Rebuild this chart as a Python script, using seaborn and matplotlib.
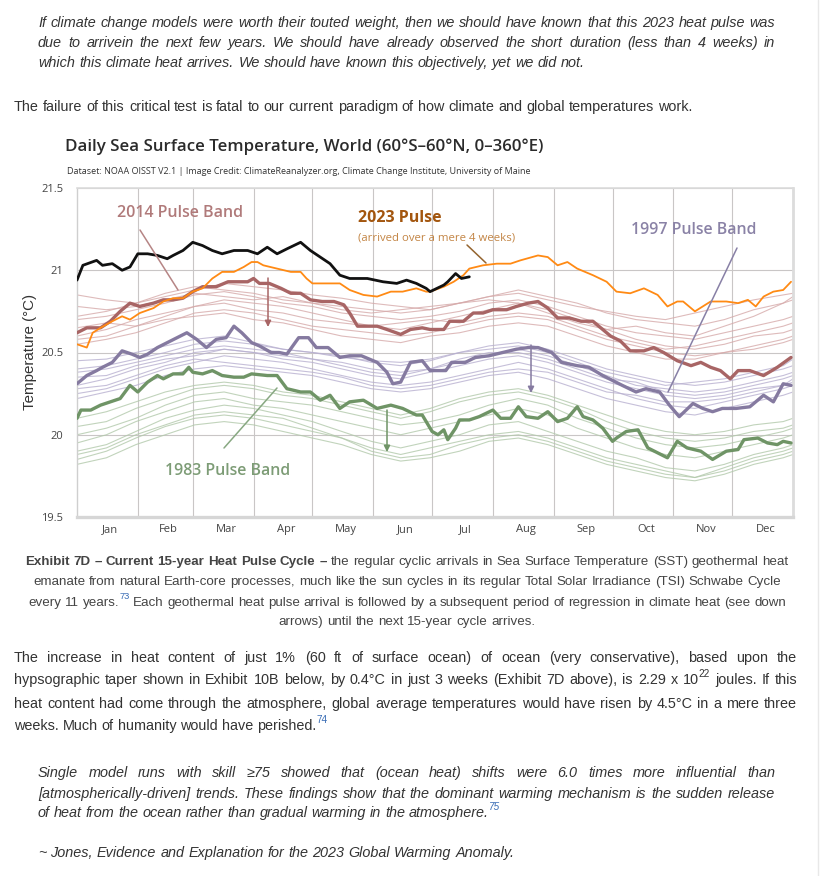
import matplotlib
matplotlib.use("Agg")
import matplotlib.pyplot as plt
from matplotlib.lines import Line2D
import numpy as np
import pandas as pd
import seaborn as sns

# ---------------- data ----------------
month_labels = ['Jan', 'Feb', 'Mar', 'Apr', 'May', 'Jun', 'Jul', 'Aug', 'Sep', 'Oct', 'Nov', 'Dec']
month_starts = [1, 32, 60, 91, 121, 152, 182, 213, 244, 274, 305, 335, 366]
y_ticks = [19.5, 20.0, 20.5, 21.0, 21.5]
y_tick_labels = ['19.5', '20', '20.5', '21', '21.5']

# 2024 (black, partial year)
days_2024 = [1, 4, 11, 14, 19, 24, 28, 32, 37, 42, 47, 50, 55, 60, 65, 70, 75, 81, 88, 93, 98, 103, 108,
             115, 120, 125, 130, 135, 140, 149, 157, 164, 169, 174, 179, 181, 188, 190, 194, 197, 201]
temp_2024 = [20.94, 21.03, 21.06, 21.03, 21.04, 21.00, 21.02, 21.10, 21.10, 21.09, 21.07, 21.09, 21.12,
             21.17, 21.15, 21.12, 21.10, 21.12, 21.12, 21.10, 21.14, 21.10, 21.13, 21.17, 21.12, 21.08,
             21.04, 20.97, 20.95, 20.95, 20.93, 20.92, 20.94, 20.92, 20.89, 20.87, 20.91, 20.93, 20.98,
             20.95, 20.96]

# 2023 (orange)
days_2023 = [1, 6, 9, 13, 19, 24, 28, 33, 40, 45, 50, 55, 60, 65, 70, 75, 81, 86, 90, 93,
             96, 103, 110, 115, 118, 121, 128, 135, 140, 147, 154, 161, 167, 174, 179, 181, 188, 193, 198, 201,
             208, 215, 222, 227, 236, 241, 246, 251, 256, 264, 271, 276, 283, 290, 297, 302, 307, 310, 316, 324,
             332, 338, 343, 347, 351, 356, 361, 365]
temp_2023 = [20.55, 20.53, 20.62, 20.65, 20.69, 20.72, 20.70, 20.74, 20.77, 20.81,
             20.83, 20.83, 20.87, 20.89, 20.95, 20.99, 20.99, 21.02, 21.05, 21.05,
             21.03, 21.01, 20.99, 20.99, 20.95, 20.92, 20.92, 20.92, 20.88, 20.85,
             20.84, 20.87, 20.87, 20.89, 20.87, 20.87, 20.90, 20.93, 20.97, 21.01,
             21.03, 21.04, 21.04, 21.06, 21.09, 21.08, 21.03, 21.05, 21.01, 20.97,
             20.93, 20.87, 20.86, 20.89, 20.85, 20.78, 20.81, 20.81, 20.75, 20.81,
             20.81, 20.80, 20.82, 20.78, 20.84, 20.87, 20.88, 20.93]

# 2014 pulse (brown)
days_2014 = [1, 6, 13, 18, 23, 28, 33, 40, 45, 50, 55, 60, 65, 72, 78, 83, 88, 91, 94, 99,
             105, 110, 115, 120, 126, 132, 137, 140, 144, 149, 154, 159, 166, 171, 177, 181, 188, 191, 198, 203,
             208, 213, 220, 225, 231, 236, 241, 246, 252, 258, 264, 268, 273, 278, 283, 290, 295, 300, 307, 314,
             319, 324, 329, 334, 338, 344, 351, 358, 365]
temp_2014 = [20.62, 20.65, 20.65, 20.69, 20.75, 20.80, 20.78, 20.80, 20.82, 20.82,
             20.83, 20.87, 20.90, 20.90, 20.93, 20.93, 20.93, 20.95, 20.92, 20.92,
             20.89, 20.86, 20.86, 20.82, 20.81, 20.81, 20.79, 20.74, 20.66, 20.66,
             20.66, 20.64, 20.61, 20.64, 20.65, 20.64, 20.64, 20.69, 20.69, 20.74,
             20.74, 20.76, 20.76, 20.78, 20.80, 20.81, 20.77, 20.71, 20.71, 20.69,
             20.69, 20.65, 20.60, 20.57, 20.51, 20.51, 20.53, 20.50, 20.45, 20.42,
             20.44, 20.41, 20.39, 20.34, 20.39, 20.39, 20.36, 20.41, 20.47]

# 1997 pulse (purple)
days_1997 = [1, 6, 11, 14, 19, 24, 29, 33, 37, 42, 47, 52, 57, 62, 67, 72, 77, 81, 85, 90,
             94, 100, 104, 108, 114, 119, 123, 129, 135, 140, 146, 154, 159, 162, 166, 171, 177, 181, 189, 192,
             199, 204, 211, 218, 225, 231, 236, 243, 248, 256, 262, 269, 274, 279, 286, 291, 298, 303, 308, 315,
             320, 325, 330, 337, 344, 351, 356, 361, 365]
temp_1997 = [20.31, 20.36, 20.39, 20.41, 20.44, 20.51, 20.49, 20.47, 20.49, 20.53,
             20.56, 20.59, 20.62, 20.58, 20.53, 20.58, 20.59, 20.66, 20.62, 20.56,
             20.54, 20.50, 20.50, 20.49, 20.59, 20.59, 20.53, 20.53, 20.47, 20.48,
             20.48, 20.44, 20.38, 20.31, 20.32, 20.44, 20.45, 20.39, 20.39, 20.44,
             20.44, 20.47, 20.48, 20.50, 20.52, 20.53, 20.53, 20.50, 20.44, 20.42,
             20.41, 20.36, 20.33, 20.30, 20.26, 20.28, 20.26, 20.18, 20.11, 20.19,
             20.16, 20.14, 20.16, 20.16, 20.17, 20.24, 20.20, 20.31, 20.30]

# 1983 pulse (green)
days_1983 = [1, 3, 8, 13, 18, 23, 28, 32, 37, 42, 45, 50, 55, 58, 60, 65, 70, 75, 81, 86,
             90, 98, 103, 108, 115, 120, 125, 130, 135, 140, 147, 154, 161, 167, 174, 177, 182, 185, 188, 190,
             194, 196, 201, 206, 213, 217, 222, 226, 230, 236, 241, 246, 251, 256, 259, 264, 269, 274, 276, 281,
             287, 292, 297, 302, 307, 312, 319, 325, 332, 338, 341, 348, 353, 358, 361, 365]
temp_1983 = [20.10, 20.15, 20.15, 20.18, 20.20, 20.22, 20.30, 20.26, 20.32, 20.36,
             20.34, 20.37, 20.37, 20.41, 20.38, 20.37, 20.39, 20.36, 20.35, 20.35,
             20.37, 20.36, 20.36, 20.28, 20.26, 20.26, 20.21, 20.24, 20.16, 20.20,
             20.21, 20.16, 20.18, 20.16, 20.12, 20.12, 20.02, 20.00, 20.03, 19.97,
             20.04, 20.09, 20.09, 20.11, 20.15, 20.10, 20.10, 20.17, 20.11, 20.10,
             20.14, 20.08, 20.10, 20.17, 20.11, 20.09, 20.04, 19.96, 19.98, 20.02,
             20.03, 19.92, 19.89, 19.86, 19.96, 19.92, 19.90, 19.85, 19.90, 19.91,
             19.97, 19.98, 19.95, 19.94, 19.96, 19.95]

# faint background years (read every ~15 days)
faint_days = [1, 16, 31, 46, 61, 76, 91, 106, 121, 136, 151, 166, 181, 196, 211, 226, 241, 256, 271, 286,
              301, 316, 331, 346, 361, 366]
pink_1 = [20.85, 20.82, 20.80, 20.84, 20.88, 20.92, 20.90, 20.88, 20.85, 20.83, 20.80, 20.78, 20.76, 20.80, 20.84, 20.86, 20.82, 20.78, 20.75, 20.72, 20.70, 20.74, 20.78, 20.82, 20.85, 20.86]
pink_2 = [20.70, 20.72, 20.76, 20.80, 20.85, 20.87, 20.84, 20.80, 20.78, 20.74, 20.72, 20.70, 20.72, 20.75, 20.80, 20.82, 20.78, 20.72, 20.66, 20.62, 20.60, 20.58, 20.62, 20.66, 20.70, 20.72]
pink_3 = [20.60, 20.64, 20.70, 20.74, 20.78, 20.82, 20.80, 20.78, 20.74, 20.70, 20.66, 20.64, 20.68, 20.72, 20.76, 20.80, 20.76, 20.70, 20.64, 20.58, 20.54, 20.52, 20.55, 20.60, 20.62, 20.64]
pink_4 = [20.55, 20.58, 20.62, 20.68, 20.74, 20.76, 20.74, 20.70, 20.66, 20.64, 20.62, 20.60, 20.62, 20.66, 20.70, 20.72, 20.70, 20.64, 20.58, 20.54, 20.50, 20.48, 20.50, 20.54, 20.58, 20.60]
pink_5 = [20.78, 20.76, 20.78, 20.82, 20.86, 20.84, 20.82, 20.84, 20.80, 20.76, 20.74, 20.76, 20.78, 20.80, 20.82, 20.80, 20.74, 20.68, 20.64, 20.66, 20.62, 20.60, 20.66, 20.72, 20.80, 20.84]
pink_6 = [20.65, 20.68, 20.66, 20.72, 20.78, 20.80, 20.76, 20.74, 20.70, 20.68, 20.66, 20.68, 20.70, 20.68, 20.72, 20.74, 20.72, 20.66, 20.60, 20.56, 20.52, 20.54, 20.58, 20.62, 20.66, 20.68]
pink_7 = [20.72, 20.75, 20.80, 20.86, 20.90, 20.88, 20.86, 20.82, 20.80, 20.78, 20.76, 20.74, 20.76, 20.80, 20.84, 20.88, 20.84, 20.80, 20.74, 20.70, 20.68, 20.66, 20.70, 20.76, 20.80, 20.82]
pink_8 = [20.58, 20.60, 20.66, 20.70, 20.72, 20.74, 20.70, 20.68, 20.64, 20.60, 20.58, 20.56, 20.60, 20.62, 20.66, 20.68, 20.66, 20.60, 20.54, 20.50, 20.46, 20.46, 20.50, 20.52, 20.56, 20.58]
purple_1 = [20.40, 20.42, 20.46, 20.50, 20.55, 20.57, 20.55, 20.52, 20.50, 20.48, 20.44, 20.42, 20.45, 20.50, 20.54, 20.56, 20.52, 20.46, 20.40, 20.36, 20.32, 20.30, 20.32, 20.36, 20.40, 20.42]
purple_2 = [20.30, 20.34, 20.40, 20.44, 20.50, 20.52, 20.50, 20.46, 20.44, 20.40, 20.36, 20.34, 20.38, 20.42, 20.46, 20.48, 20.44, 20.38, 20.32, 20.28, 20.24, 20.22, 20.24, 20.28, 20.30, 20.32]
purple_3 = [20.25, 20.28, 20.34, 20.40, 20.44, 20.48, 20.46, 20.44, 20.40, 20.36, 20.32, 20.30, 20.32, 20.36, 20.40, 20.44, 20.40, 20.34, 20.28, 20.22, 20.18, 20.16, 20.20, 20.24, 20.28, 20.30]
purple_4 = [20.35, 20.36, 20.42, 20.46, 20.48, 20.52, 20.50, 20.48, 20.46, 20.44, 20.40, 20.38, 20.40, 20.44, 20.48, 20.52, 20.48, 20.42, 20.36, 20.30, 20.28, 20.26, 20.28, 20.32, 20.36, 20.38]
purple_5 = [20.28, 20.30, 20.36, 20.42, 20.46, 20.44, 20.42, 20.40, 20.38, 20.35, 20.30, 20.28, 20.30, 20.34, 20.38, 20.40, 20.38, 20.32, 20.26, 20.24, 20.20, 20.20, 20.22, 20.26, 20.30, 20.34]
purple_6 = [20.45, 20.46, 20.50, 20.54, 20.58, 20.60, 20.56, 20.52, 20.50, 20.47, 20.45, 20.44, 20.46, 20.50, 20.52, 20.54, 20.50, 20.44, 20.38, 20.34, 20.30, 20.32, 20.34, 20.38, 20.42, 20.46]
purple_7 = [20.22, 20.26, 20.30, 20.36, 20.40, 20.42, 20.40, 20.38, 20.36, 20.32, 20.28, 20.26, 20.28, 20.32, 20.36, 20.38, 20.34, 20.28, 20.22, 20.18, 20.14, 20.12, 20.16, 20.20, 20.24, 20.26]
purple_8 = [20.38, 20.40, 20.44, 20.48, 20.52, 20.54, 20.52, 20.50, 20.46, 20.42, 20.38, 20.36, 20.40, 20.46, 20.50, 20.50, 20.46, 20.40, 20.34, 20.32, 20.26, 20.24, 20.26, 20.30, 20.34, 20.36]
green_1 = [19.85, 19.90, 19.98, 20.05, 20.10, 20.12, 20.10, 20.06, 20.02, 19.98, 19.92, 19.88, 19.92, 19.96, 20.00, 20.02, 19.98, 19.92, 19.86, 19.82, 19.78, 19.74, 19.78, 19.84, 19.88, 19.90]
green_2 = [19.95, 20.00, 20.08, 20.14, 20.20, 20.22, 20.18, 20.16, 20.12, 20.08, 20.04, 20.00, 20.04, 20.08, 20.12, 20.16, 20.12, 20.04, 19.98, 19.92, 19.88, 19.86, 19.90, 19.94, 19.98, 20.00]
green_3 = [20.05, 20.08, 20.16, 20.22, 20.28, 20.30, 20.28, 20.24, 20.22, 20.18, 20.14, 20.10, 20.14, 20.20, 20.24, 20.26, 20.22, 20.16, 20.08, 20.02, 19.98, 19.96, 19.98, 20.02, 20.04, 20.06]
green_4 = [19.90, 19.94, 20.02, 20.10, 20.15, 20.18, 20.16, 20.12, 20.08, 20.02, 19.96, 19.92, 19.96, 20.00, 20.06, 20.08, 20.02, 19.96, 19.90, 19.86, 19.80, 19.78, 19.82, 19.88, 19.92, 19.94]
green_5 = [20.00, 20.04, 20.10, 20.18, 20.24, 20.26, 20.22, 20.20, 20.18, 20.14, 20.10, 20.06, 20.08, 20.12, 20.18, 20.22, 20.18, 20.10, 20.04, 19.98, 19.94, 19.92, 19.94, 19.98, 20.02, 20.04]
green_6 = [19.82, 19.86, 19.94, 20.00, 20.06, 20.08, 20.06, 20.02, 19.98, 19.94, 19.88, 19.84, 19.86, 19.90, 19.96, 19.98, 19.94, 19.88, 19.82, 19.78, 19.74, 19.72, 19.76, 19.82, 19.86, 19.88]
green_7 = [20.10, 20.14, 20.20, 20.26, 20.30, 20.32, 20.30, 20.26, 20.24, 20.20, 20.16, 20.12, 20.16, 20.22, 20.26, 20.28, 20.24, 20.18, 20.12, 20.06, 20.02, 20.00, 20.02, 20.06, 20.08, 20.10]
green_8 = [19.88, 19.92, 20.00, 20.06, 20.12, 20.14, 20.12, 20.10, 20.04, 19.98, 19.90, 19.86, 19.88, 19.94, 19.98, 20.00, 19.96, 19.90, 19.84, 19.80, 19.76, 19.74, 19.80, 19.86, 19.90, 19.92]

# ---------------- figure ----------------
W, H = 823, 876
sns.set_theme(style='white')
BODY_FAM = ['Liberation Sans', 'DejaVu Sans']
CHART_FAM = ['Open Sans', 'DejaVu Sans']
plt.rcParams['font.family'] = BODY_FAM

fig = plt.figure(figsize=(W / 100, H / 100), dpi=100)
fig.patch.set_facecolor('white')
renderer = fig.canvas.get_renderer()


def text_w(s, p):
    t = fig.text(0, 0, s, **p)
    w = t.get_window_extent(renderer).width
    t.remove()
    return w


def fit_size(s, target, p, size0=10.0):
    q = dict(p)
    q['fontsize'] = size0
    return size0 * target / text_w(s, q)


def put(x, y, s, **kw):
    return fig.text(x / W, 1 - y / H, s, **kw)


def fit_put(x, y, s, target, p, ha='left', va='center', **kw):
    size = fit_size(s, target, p)
    q = dict(p)
    q['fontsize'] = size
    return put(x, y, s, ha=ha, va=va, **q, **kw)


# ------------- chart axes ---------------
ax = fig.add_axes([77 / W, 1 - 517 / H, 716 / W, 329 / H])
ax.set_xlim(1, 366)
ax.set_ylim(19.5, 21.5)

bands = [
    ('pink', [pink_1, pink_2, pink_3, pink_4, pink_5, pink_6, pink_7, pink_8], '#d6aaaa'),
    ('purple', [purple_1, purple_2, purple_3, purple_4, purple_5, purple_6, purple_7, purple_8], '#b8b0d0'),
    ('green', [green_1, green_2, green_3, green_4, green_5, green_6, green_7, green_8], '#b2c9ab'),
]
for name, series, col in bands:
    rows = []
    for k, vals in enumerate(series):
        for d, v in zip(faint_days, vals):
            rows.append((name + str(k), d, v))
    df = pd.DataFrame(rows, columns=['series', 'day', 'temp'])
    sns.lineplot(data=df, x='day', y='temp', units='series', estimator=None,
                 color=col, lw=0.8, alpha=0.8, ax=ax, zorder=2)

thick = [
    (days_1983, temp_1983, '#6f9466', 2.4),
    (days_1997, temp_1997, '#857aa0', 2.4),
    (days_2014, temp_2014, '#a86565', 2.4),
    (days_2023, temp_2023, '#ff8a14', 1.3),
    (days_2024, temp_2024, '#111111', 2.0),
]
for d, v, c, lw in thick:
    sns.lineplot(x=d, y=v, color=c, lw=lw, ax=ax, estimator=None, sort=False, zorder=4)

ax.set_xlabel('')
ax.set_ylabel('')
ax.set_xticks(month_starts[1:-1])
ax.set_xticklabels([])
mids = [(a + b) / 2 + 1.5 for a, b in zip(month_starts[:-1], month_starts[1:])]
ax.set_xticks(mids, minor=True)
ax.set_xticklabels(month_labels, minor=True)
ax.set_yticks(y_ticks)
ax.set_yticklabels(y_tick_labels)
ax.tick_params(which='both', length=0)
ax.tick_params(axis='y', pad=10, labelsize=8, labelcolor='#444444')
ax.tick_params(axis='x', which='minor', pad=5, labelsize=8, labelcolor='#444444')
for lab in ax.get_yticklabels() + ax.get_xticklabels(minor=True):
    lab.set_family(CHART_FAM)
ax.grid(True, which='major', color='#c9c6c6', lw=0.8)
ax.set_axisbelow(True)
for side, col, lw in [('left', '#cfcfcf', 1.0), ('top', '#dcdcdc', 1.2),
                      ('right', '#dcdcdc', 2.0), ('bottom', '#d6d6d6', 2.4)]:
    ax.spines[side].set_color(col)
    ax.spines[side].set_linewidth(lw)
    ax.spines[side].set_visible(True)


def px2data(x, y):
    return 1 + (x - 77) / 1.9616, 21.5 - (y - 188) / 164.5


def pointer(x0, y0, x1, y1, col, head=False):
    ax.annotate('', xy=px2data(x1, y1), xytext=px2data(x0, y0),
                arrowprops=dict(arrowstyle='-|>' if head else '-', color=col, lw=1.1,
                                mutation_scale=9, shrinkA=0, shrinkB=0), zorder=6)


pointer(140, 230, 178, 290, '#b68585')
pointer(268, 278, 268, 327, '#a86565', head=True)
pointer(467, 245, 486, 263, '#94642f')
pointer(737, 248, 668, 392, '#8880a6')
pointer(531, 345, 531, 393, '#857aa0', head=True)
pointer(224, 448, 277, 388, '#88a882')
pointer(387, 410, 387, 452, '#6f9466', head=True)

lab_p = dict(family=CHART_FAM, fontweight='semibold')
fit_put(117, 213, '2014 Pulse Band', 126, dict(lab_p, color='#b07a7a'))
fit_put(358, 218, '2023 Pulse', 84, dict(lab_p, color='#a3560f', fontweight='bold'))
fit_put(358, 238, '(arrived over a mere 4 weeks)', 156, dict(family=CHART_FAM, color='#c38545'))
fit_put(631, 230, '1997 Pulse Band', 126, dict(lab_p, color='#8a82a6'))
fit_put(165, 471, '1983 Pulse Band', 126, dict(lab_p, color='#7d9c76'))

# title block
fit_put(65, 147, 'Daily Sea Surface Temperature, World (60°S–60°N, 0–360°E)', 480,
        dict(family=CHART_FAM, fontweight='semibold', color='#2b2b2b'))
fit_put(67, 172, 'Dataset: NOAA OISST V2.1 | Image Credit: ClimateReanalyzer.org, Climate Change Institute, University of Maine',
        465, dict(family=CHART_FAM, color='#333333'))
ysz = fit_size('Temperature (°C)', 117, dict(family=BODY_FAM))
put(30, 352, 'Temperature (°C)', rotation=90, ha='center', va='center', fontsize=ysz,
    family=BODY_FAM, color='#333333')

# page divider
fig.add_artist(Line2D([818 / W, 818 / W], [0, 1], color='#e8e8e8', lw=1))


# ------------- body text ----------------
def props(style, size, color):
    d = dict(fontsize=size, family=BODY_FAM, color=color)
    if 'i' in style:
        d['fontstyle'] = 'italic'
    if 'b' in style:
        d['fontweight'] = 'bold'
    return d


def build_tokens(segs):
    toks = []
    for text, st in segs:
        if 's' in st:
            toks.append((text, st, False))
            continue
        lead = text.startswith(' ')
        for i, w in enumerate(text.split()):
            toks.append((w, st, i > 0 or lead))
    return toks


def draw_line(segs, y, size, color, mode='left', x0=0, x1=None, xc=None, base_style=''):
    items = []
    for text, st, sb in build_tokens(segs):
        sup = 's' in st
        sz = size * 0.7 if sup else size
        col = '#3a6db5' if 'l' in st else color
        p = props(st, sz, col)
        items.append((text, p, sb, sup, text_w(text, p)))
    bp = props(base_style, size, color)
    sp = text_w('a a', bp) - text_w('aa', bp)
    n_gaps = sum(1 for i, it in enumerate(items) if i > 0 and it[2])
    total = sum(it[4] for it in items)
    if mode == 'justify':
        gap = (x1 - x0 - total) / n_gaps
        x = x0
    elif mode == 'center':
        gap = sp
        x = xc - (total + gap * n_gaps) / 2
    else:
        gap = sp
        x = x0
    fpx = size / 0.72
    base = y + 0.36 * fpx
    for i, (t, p, sb, sup, w) in enumerate(items):
        if i > 0 and sb:
            x += gap
        yy = base - 0.5 * fpx if sup else base
        put(x, yy, t, ha='left', va='baseline', **p)
        x += w


TXT = '#333333'
s_it = fit_size('which this climate heat arrives. We should have known this objectively, yet we did not.', 547,
                props('i', 10, TXT))
draw_line([('If climate change models were worth their touted weight, then we should have known that this 2023 heat pulse was', 'i')],
          22, s_it, TXT, 'justify', 38, 775, base_style='i')
draw_line([('due to arrivein the next few years. We should have already observed the short duration (less than 4 weeks) in', 'i')],
          42, s_it, TXT, 'justify', 38, 775, base_style='i')
draw_line([('which this climate heat arrives. We should have known this objectively, yet we did not.', 'i')],
          62, s_it, TXT, 'left', 38, base_style='i')

s_body = fit_size('The failure of this critical test is fatal to our current paradigm of how climate and global temperatures work.',
                  676, props('', 10, TXT))
draw_line([('The failure of this critical test is fatal to our current paradigm of how climate and global temperatures work.', '')],
          106, s_body, TXT, 'left', 14)

CAP = '#444444'
s_cap = fit_size('arrows) until the next 15-year cycle arrives.', 256, props('', 10, CAP))
xc = 407
draw_line([('Exhibit 7D – Current 15-year Heat Pulse Cycle –', 'b'),
           (' the regular cyclic arrivals in Sea Surface Temperature (SST) geothermal heat', '')],
          560, s_cap, CAP, 'center', xc=xc)
draw_line([('emanate from natural Earth-core processes, much like the sun cycles in its regular Total Solar Irradiance (TSI) Schwabe Cycle', '')],
          580, s_cap, CAP, 'center', xc=xc)
draw_line([('every 11 years.', ''), ('73', 'sl'),
           (' Each geothermal heat pulse arrival is followed by a subsequent period of regression in climate heat (see down', '')],
          601, s_cap, CAP, 'center', xc=xc)
draw_line([('arrows) until the next 15-year cycle arrives.', '')], 620, s_cap, CAP, 'center', xc=xc)

s_p4 = fit_size('weeks. Much of humanity would have perished.', 302, props('', 10, TXT))
draw_line([('The increase in heat content of just 1% (60 ft of surface ocean) of ocean (very conservative), based upon the', '')],
          657, s_p4, TXT, 'justify', 14, 797)
draw_line([('hypsographic taper shown in Exhibit 10B below, by 0.4°C in just 3 weeks (Exhibit 7D above), is 2.29 x 10', ''),
           ('22', 's'), (' joules. If this', '')],
          679, s_p4, TXT, 'justify', 14, 797)
draw_line([('heat content had come through the atmosphere, global average temperatures would have risen by 4.5°C in a mere three', '')],
          703, s_p4, TXT, 'justify', 14, 797)
draw_line([('weeks. Much of humanity would have perished.', ''), ('74', 'sl')], 725, s_p4, TXT, 'left', 14)

s_q = fit_size('of heat from the ocean rather than gradual warming in the atmosphere.', 451, props('i', 10, TXT))
draw_line([('Single model runs with skill ≥75 showed that (ocean heat) shifts were 6.0 times more influential than', 'i')],
          772, s_q, TXT, 'justify', 38, 775, base_style='i')
draw_line([('[atmospherically-driven] trends. These findings show that the dominant warming mechanism is the sudden release', 'i')],
          793, s_q, TXT, 'justify', 38, 775, base_style='i')
draw_line([('of heat from the ocean rather than gradual warming in the atmosphere.', 'i'), ('75', 'sli')],
          812, s_q, TXT, 'left', 38, base_style='i')
draw_line([('~ Jones, Evidence and Explanation for the 2023 Global Warming Anomaly.', 'i')],
          852, s_q, TXT, 'left', 38, base_style='i')

fig.savefig('out.png', dpi=100, facecolor='white')
